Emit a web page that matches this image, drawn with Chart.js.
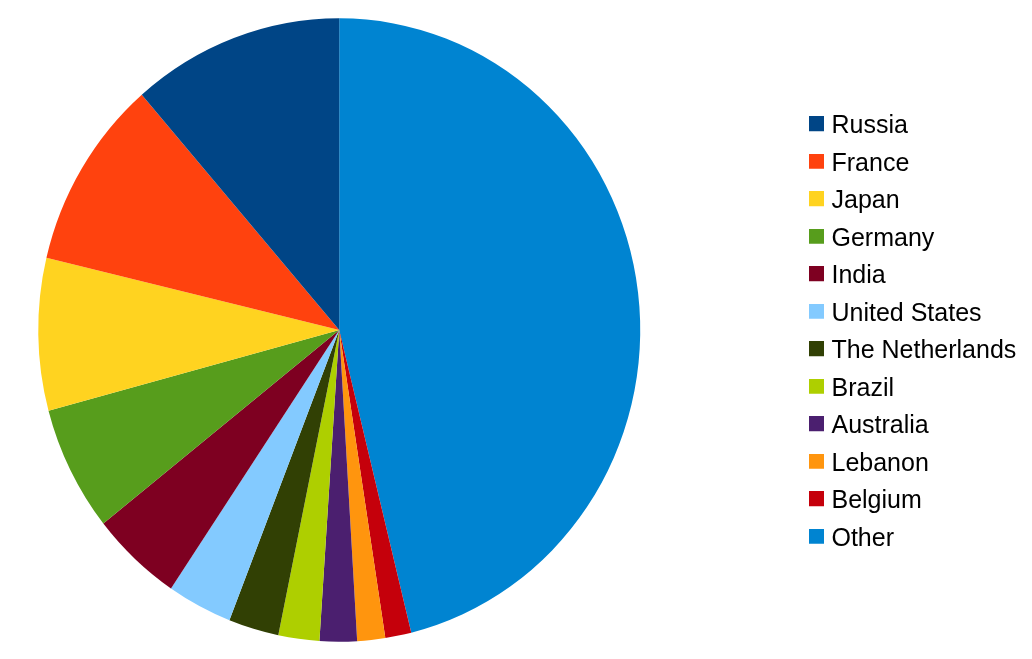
<!DOCTYPE html>
<html>
<head>
<meta charset="utf-8">
<script src="https://cdn.jsdelivr.net/npm/chart.js@4.4.1/dist/chart.umd.min.js"></script>
<style>
  html, body { margin: 0; padding: 0; background: #ffffff; overflow: hidden; }
  #wrap { width: 1032px; height: 659px; overflow: hidden; position: relative; }
  #c { position: absolute; left: -124px; top: 0; }
</style>
</head>
<body>
<div id="wrap"><canvas id="c" width="1151" height="659"></canvas></div>
<script>
// Legend order (counter-clockwise from 12 o'clock in the reference)
const countries = ['Russia', 'France', 'Japan', 'Germany', 'India', 'United States',
  'The Netherlands', 'Brazil', 'Australia', 'Lebanon', 'Belgium', 'Other'];
// Share (%)
const shares = [11.4, 9.9, 7.9, 6.5, 4.9, 3.5, 2.7, 2.2, 2.0, 1.5, 1.4, 46.2];
const colors = ['#004586', '#ff420e', '#ffd320', '#579d1c', '#7e0021', '#83caff',
  '#314004', '#aecf00', '#4b1f6f', '#ff950e', '#c5000b', '#0084d1'];

// Chart.js draws clockwise, the reference runs counter-clockwise: feed reversed data.
const chartLabels = countries.slice().reverse();
const chartData = shares.slice().reverse();
const chartColors = colors.slice().reverse();

function swatch(color) {
  const c = document.createElement('canvas');
  c.width = 15; c.height = 20;
  const g = c.getContext('2d');
  g.fillStyle = color;
  g.fillRect(0, 0, 15, 15);
  return c;
}

const ellipse = {
  id: 'ellipse',
  beforeDatasetsDraw(chart) {
    const a = chart.chartArea;
    const cy = (a.top + a.bottom) / 2;
    const ctx = chart.ctx;
    ctx.save();
    ctx.translate(0, cy);
    ctx.scale(1, 1.0355);
    ctx.translate(0, -cy);
  },
  afterDatasetsDraw(chart) {
    chart.ctx.restore();
  }
};

new Chart(document.getElementById('c'), {
  type: 'pie',
  data: {
    labels: chartLabels,
    datasets: [{
      data: chartData,
      backgroundColor: chartColors,
      borderWidth: 0,
      hoverOffset: 0,
      offset: 0,
      clip: false
    }]
  },
  options: {
    responsive: false,
    animation: false,
    events: [],
    rotation: 0,
    layout: { padding: { left: 0, right: 0.7, top: 29, bottom: 28 } },
    plugins: {
      tooltip: { enabled: false },
      legend: {
        position: 'right',
        align: 'center',
        reverse: true,
        title: { display: true, text: '', padding: 0, font: { size: 1, lineHeight: '5px' } },
        labels: {
          color: '#000000',
          font: { family: "'Liberation Sans', Arial, sans-serif", size: 25 },
          padding: 12.5,
          boxWidth: 4,
          usePointStyle: true,
          generateLabels(chart) {
            const items = Chart.overrides.pie.plugins.legend.labels.generateLabels(chart);
            return items.map(it => Object.assign(it, {
              pointStyle: swatch(it.fillStyle),
              lineWidth: 0
            }));
          }
        }
      }
    }
  },
  plugins: [ellipse]
});
</script>
</body>
</html>
